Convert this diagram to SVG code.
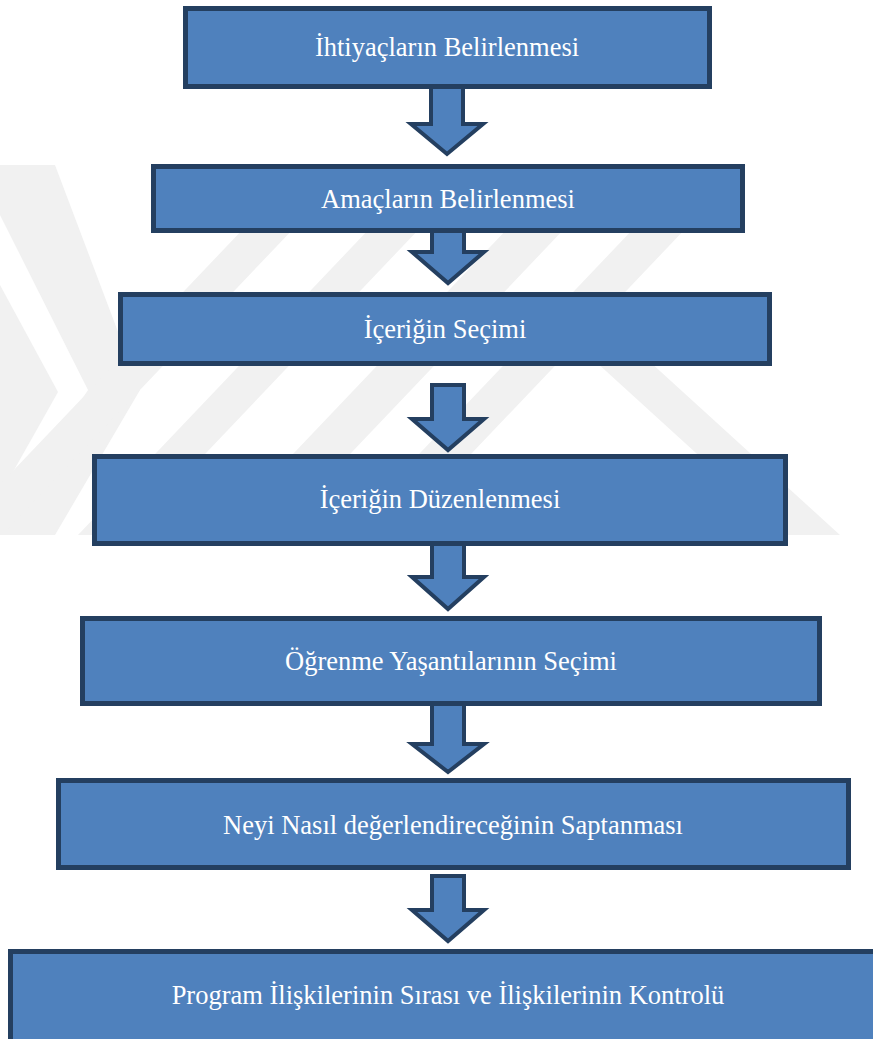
<svg xmlns="http://www.w3.org/2000/svg" width="873" height="1039" viewBox="0 0 873 1039">
<style>
.box{fill:#4f81bd;stroke:#243f60;stroke-width:5}
.arr{fill:#4f81bd;stroke:#243f60;stroke-width:4;stroke-linejoin:miter}
.lbl{font-family:"Liberation Serif","Times New Roman",serif;font-size:26.5px;fill:#ffffff;text-anchor:middle}
.wm{fill:#f1f1f1}
</style>
<defs>
<clipPath id="wmclip"><rect x="0" y="165" width="840" height="370"/></clipPath>
</defs>
<rect width="873" height="1039" fill="#ffffff"/>
<g id="watermark" clip-path="url(#wmclip)">
<polygon class="wm" points="0,165 55,165 140,390 55,535 0,535 0,525 88,390 0,215"/>
<polygon class="wm" points="0,285 58,392 0,495"/>
<polygon class="wm" points="304,165 354,165 2,535 -48,535"/>
<polygon class="wm" points="430,165 480,165 128,535 78,535"/>
<polygon class="wm" points="568,165 625,165 273,535 216,535"/>
<polygon class="wm" points="694,165 746,165 394,535 342,535"/>
<polygon class="wm" points="528,300 582,300 840,535 786,535"/>
</g>
<g id="connectors">
<path class="arr" d="M431,86 L463,86 L463,124 L483,124 L447,154 L411,124 L431,124 Z"/>
<path class="arr" d="M432,230 L464,230 L464,252 L484,252 L448,283 L412,252 L432,252 Z"/>
<path class="arr" d="M432,385 L464,385 L464,419 L484,419 L448,450 L412,419 L432,419 Z"/>
<path class="arr" d="M432,544 L464,544 L464,577 L484,577 L448,609 L412,577 L432,577 Z"/>
<path class="arr" d="M432,704 L464,704 L464,744 L484,744 L448,772 L412,744 L432,744 Z"/>
<path class="arr" d="M432,876 L464,876 L464,910 L484,910 L448,941 L412,910 L432,910 Z"/>
</g>
<g id="n1"><rect class="box" x="185.5" y="8.5" width="524" height="78"/><text class="lbl" x="447" y="56">İhtiyaçların Belirlenmesi</text></g>
<g id="n2"><rect class="box" x="153.5" y="166.5" width="589" height="64"/><text class="lbl" x="448" y="207.5">Amaçların Belirlenmesi</text></g>
<g id="n3"><rect class="box" x="120.5" y="294.5" width="649" height="69"/><text class="lbl" x="445" y="337.5">İçeriğin Seçimi</text></g>
<g id="n4"><rect class="box" x="94.5" y="456.5" width="691" height="87"/><text class="lbl" x="440" y="508">İçeriğin Düzenlenmesi</text></g>
<g id="n5"><rect class="box" x="82.5" y="618.5" width="737" height="85"/><text class="lbl" x="451" y="670">Öğrenme Yaşantılarının Seçimi</text></g>
<g id="n6"><rect class="box" x="58.5" y="780.5" width="790" height="87"/><text class="lbl" x="453" y="834">Neyi Nasıl değerlendireceğinin Saptanması</text></g>
<g id="n7"><rect class="box" x="10.5" y="951.5" width="880" height="100"/><text class="lbl" x="448" y="1004">Program İlişkilerinin Sırası ve İlişkilerinin Kontrolü</text></g>
</svg>
